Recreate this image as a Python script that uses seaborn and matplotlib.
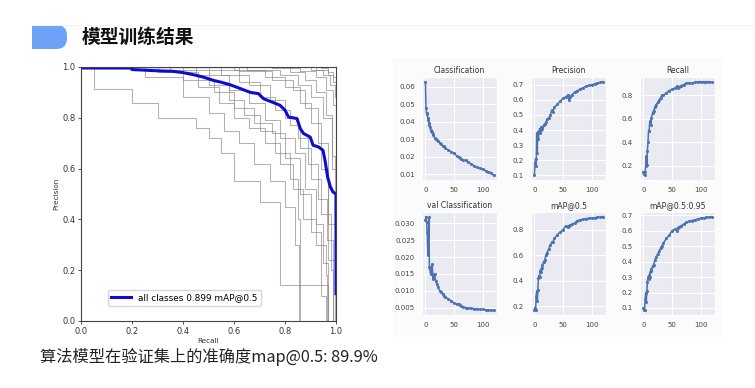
import matplotlib
matplotlib.use("Agg")
import matplotlib.pyplot as plt
from matplotlib.patches import FancyBboxPatch, Rectangle
from matplotlib.lines import Line2D
import seaborn as sns

W, H = 755, 388

# PR curve, all classes
all_recall = [0, 0.2, 0.2, 0.3, 0.36, 0.40, 0.44, 0.48, 0.52, 0.55, 0.585, 0.625, 0.664,
              0.696, 0.716, 0.749, 0.781, 0.80, 0.814, 0.847, 0.86, 0.873, 0.899, 0.91,
              0.932, 0.949, 0.958, 0.967, 0.978, 0.988, 1.0, 1.0]
all_precision = [0.996, 0.996, 0.99, 0.985, 0.983, 0.978, 0.97, 0.96, 0.947, 0.94, 0.93, 0.915,
                 0.90, 0.895, 0.875, 0.862, 0.849, 0.83, 0.803, 0.797, 0.757, 0.738, 0.724,
                 0.692, 0.685, 0.672, 0.626, 0.567, 0.528, 0.508, 0.50, 0.108]
all_label = "all classes 0.899 mAP@0.5"

# PR curves per class (step breakpoints)
class_recall = [
    [0, 0.05, 0.20, 0.30, 0.45, 0.50, 0.55, 0.60, 0.70, 0.78, 0.96, 0.97],
    [0, 0.25, 0.40, 0.50, 0.56, 0.62, 0.68, 0.74, 0.80, 0.84, 0.855],
    [0, 0.30, 0.46, 0.54, 0.60, 0.66, 0.72, 0.78, 0.83, 0.87, 0.92, 0.96, 0.965],
    [0, 0.45, 0.58, 0.66, 0.72, 0.78, 0.84, 0.88, 0.92, 0.95, 0.97],
    [0, 0.50, 0.62, 0.70, 0.76, 0.82, 0.86, 0.90, 0.94, 0.98, 0.99],
    [0, 0.40, 0.52, 0.60, 0.68, 0.75, 0.80, 0.86, 0.90, 0.94, 0.96],
    [0, 0.60, 0.72, 0.80, 0.86, 0.90, 0.94, 0.97, 1.0],
    [0, 0.70, 0.82, 0.88, 0.92, 0.96, 0.985, 1.0],
    [0, 0.80, 0.90, 0.95, 0.975, 0.995, 1.0],
    [0, 0.88, 0.94, 0.97, 0.99, 1.0],
    [0, 0.55, 0.66, 0.74, 0.80, 0.85, 0.89, 0.93, 0.965, 0.99],
    [0, 0.35, 0.50, 0.58, 0.64, 0.70, 0.76, 0.82, 0.85, 0.86],
    [0, 0.65, 0.78, 0.85, 0.90, 0.95, 0.985, 0.995],
    [0, 0.75, 0.86, 0.92, 0.96, 0.99, 1.0],
    [0, 0.92, 0.97, 0.99, 1.0],
    [0, 0.62, 0.75, 0.83, 0.88, 0.93, 0.97, 1.0],
]
class_precision = [
    [1.0, 0.915, 0.86, 0.80, 0.76, 0.72, 0.66, 0.55, 0.47, 0.14, 0.14, 0.0],
    [1.0, 0.96, 0.88, 0.82, 0.75, 0.70, 0.62, 0.55, 0.45, 0.30, 0.0],
    [1.0, 0.98, 0.92, 0.86, 0.80, 0.76, 0.70, 0.62, 0.52, 0.40, 0.30, 0.18, 0.0],
    [1.0, 0.97, 0.91, 0.86, 0.79, 0.72, 0.66, 0.52, 0.38, 0.23, 0.0],
    [1.0, 0.99, 0.94, 0.88, 0.83, 0.77, 0.68, 0.56, 0.42, 0.20, 0.0],
    [1.0, 0.95, 0.90, 0.84, 0.78, 0.74, 0.64, 0.50, 0.35, 0.10, 0.0],
    [1.0, 0.99, 0.96, 0.92, 0.86, 0.78, 0.60, 0.38, 0.0],
    [1.0, 1.0, 0.98, 0.95, 0.90, 0.81, 0.60, 0.0],
    [1.0, 1.0, 0.99, 0.97, 0.93, 0.88, 0.0],
    [1.0, 1.0, 0.995, 0.98, 0.96, 0.0],
    [1.0, 0.97, 0.93, 0.87, 0.80, 0.72, 0.62, 0.48, 0.32, 0.0],
    [1.0, 0.99, 0.93, 0.87, 0.81, 0.75, 0.66, 0.56, 0.40, 0.0],
    [1.0, 0.99, 0.97, 0.93, 0.88, 0.80, 0.65, 0.0],
    [1.0, 0.995, 0.985, 0.96, 0.91, 0.85, 0.0],
    [1.0, 0.99, 0.97, 0.94, 0.0],
    [1.0, 0.985, 0.95, 0.91, 0.84, 0.70, 0.24, 0.0],
]

# training curves
epochs = [0, 1, 2, 3, 4, 5, 6, 7, 8, 9, 10, 11, 12, 13, 14, 16, 18, 20, 22, 25, 28, 30,
          32, 35, 40, 45, 50, 55, 58, 60, 62, 65, 70, 75, 80, 85, 90, 95, 100, 105, 110,
          115, 119]
cls_loss = [0.063, 0.048, 0.0445, 0.045, 0.042, 0.041, 0.0395, 0.038, 0.037, 0.0355, 0.035,
            0.0345, 0.034, 0.033, 0.0325, 0.031, 0.030, 0.0295, 0.029, 0.028, 0.0272, 0.0265,
            0.026, 0.025, 0.024, 0.023, 0.022, 0.0205, 0.020, 0.0195, 0.019, 0.0185, 0.018,
            0.017, 0.016, 0.015, 0.014, 0.0135, 0.013, 0.0122, 0.0115, 0.011, 0.0095]
precision = [0.10, 0.18, 0.21, 0.16, 0.38, 0.25, 0.39, 0.34, 0.39, 0.41, 0.38, 0.40, 0.42,
             0.41, 0.42, 0.43, 0.44, 0.45, 0.47, 0.48, 0.50, 0.53, 0.52, 0.55, 0.57, 0.59,
             0.61, 0.62, 0.63, 0.60, 0.62, 0.63, 0.65, 0.66, 0.67, 0.68, 0.69, 0.695, 0.70,
             0.705, 0.71, 0.715, 0.72]
recall = [0.15, 0.13, 0.12, 0.15, 0.20, 0.28, 0.21, 0.33, 0.40, 0.50, 0.50, 0.57, 0.58, 0.55,
          0.61, 0.65, 0.67, 0.70, 0.72, 0.74, 0.76, 0.78, 0.80, 0.80, 0.82, 0.84, 0.85, 0.86,
          0.875, 0.86, 0.87, 0.88, 0.89, 0.90, 0.905, 0.90, 0.91, 0.915, 0.915, 0.915, 0.915,
          0.915, 0.91]
val_cls_loss = [0.031, 0.032, 0.0305, 0.0275, 0.022, 0.0205, 0.0318, 0.017, 0.0165, 0.015,
                0.017, 0.015, 0.018, 0.0135, 0.014, 0.015, 0.013, 0.012, 0.011, 0.010, 0.0095,
                0.009, 0.0085, 0.0082, 0.0075, 0.007, 0.0063, 0.006, 0.006, 0.0058, 0.0055,
                0.0053, 0.0050, 0.0049, 0.0048, 0.0047, 0.0046, 0.0045, 0.0045, 0.0044,
                0.0043, 0.0042, 0.0042]
map50 = [0.17, 0.19, 0.17, 0.28, 0.32, 0.24, 0.33, 0.42, 0.44, 0.43, 0.48, 0.47, 0.49, 0.50,
         0.52, 0.55, 0.56, 0.60, 0.62, 0.65, 0.68, 0.70, 0.70, 0.73, 0.76, 0.78, 0.80, 0.83,
         0.82, 0.83, 0.835, 0.84, 0.85, 0.87, 0.875, 0.88, 0.885, 0.887, 0.89, 0.892, 0.895,
         0.897, 0.90]
map50_95 = [0.10, 0.09, 0.085, 0.16, 0.20, 0.14, 0.21, 0.27, 0.30, 0.29, 0.31, 0.30, 0.33,
            0.34, 0.35, 0.37, 0.38, 0.41, 0.43, 0.45, 0.47, 0.49, 0.50, 0.52, 0.55, 0.57,
            0.60, 0.61, 0.60, 0.62, 0.625, 0.63, 0.64, 0.655, 0.66, 0.665, 0.67, 0.675,
            0.68, 0.683, 0.685, 0.688, 0.69]

panel_titles = ["Classification", "Precision", "Recall",
                "val Classification", "mAP@0.5", "mAP@0.5:0.95"]
panel_series = [cls_loss, precision, recall, val_cls_loss, map50, map50_95]
panel_yticks = [
    [0.01, 0.02, 0.03, 0.04, 0.05, 0.06],
    [0.1, 0.2, 0.3, 0.4, 0.5, 0.6, 0.7],
    [0.2, 0.4, 0.6, 0.8],
    [0.005, 0.010, 0.015, 0.020, 0.025, 0.030],
    [0.2, 0.4, 0.6, 0.8],
    [0.1, 0.2, 0.3, 0.4, 0.5, 0.6, 0.7],
]
panel_fmt = ["{:.2f}", "{:.1f}", "{:.1f}", "{:.3f}", "{:.1f}", "{:.1f}"]

title_text = "模型训练结果"
footer_text = "算法模型在验证集上的准确度map@0.5: 89.9%"

CJK = ["Noto Sans CJK SC", "DejaVu Sans"]


def fx(x):
    return x / W


def fy(y):
    return 1 - y / H


fig = plt.figure(figsize=(W / 100, H / 100), dpi=100)
fig.patch.set_facecolor("white")

# slide header
fig.add_artist(Line2D([fx(32), 1], [fy(25), fy(25)], color="#f2f2f2", lw=0.8))
fig.add_artist(Rectangle((fx(32), fy(49)), fx(20), 24 / H, color="#6ea2f6", lw=0))
fig.add_artist(FancyBboxPatch((fx(40), fy(49)), fx(27), 24 / H,
                              boxstyle="round,pad=0,rounding_size=0.014",
                              color="#6ea2f6", lw=0, mutation_aspect=W / H))
fig.text(fx(82), fy(37), title_text, fontsize=13.5, fontweight="bold",
         va="center", ha="left", family=CJK, color="#111111")
fig.text(fx(40), fy(357), footer_text, fontsize=11.7, va="center", ha="left",
         family=CJK, color="#222222")

# faint panel behind the training plots
fig.add_artist(Rectangle((fx(393), fy(337)), fx(330), 279 / H,
                         color="#fbfbfb", lw=0, zorder=-1))

# PR curve
ax = fig.add_axes([fx(81), fy(321), 255 / W, 254 / H])
for r, p in zip(class_recall, class_precision):
    ax.step(r, p, where="post", color="grey", alpha=0.6, lw=0.75)
ax.plot(all_recall, all_precision, color="#0d0dd2", lw=2.2, label=all_label)
ax.set_xlim(0, 1)
ax.set_ylim(0, 1)
ax.set_xticks([0, 0.2, 0.4, 0.6, 0.8, 1.0])
ax.set_yticks([0, 0.2, 0.4, 0.6, 0.8, 1.0])
ax.tick_params(labelsize=6, length=2.5, width=0.6, pad=1.5, colors="#333333")
for s in ax.spines.values():
    s.set_color("#444444")
    s.set_linewidth(0.8)
ax.set_xlabel("Recall", fontsize=5.2, labelpad=1.5, color="#333333")
ax.set_ylabel("Precision", fontsize=5.2, labelpad=2, color="#333333")
ax.legend(loc="lower left", bbox_to_anchor=(0.105, 0.06), borderaxespad=0,
          fontsize=6.4, handlelength=2.2, frameon=True, fancybox=True)

# training curves
lefts = [422, 531, 640]
tops = [77, 212]
for i, (name, vals) in enumerate(zip(panel_titles, panel_series)):
    row, col = divmod(i, 3)
    with sns.axes_style("darkgrid"):
        a = fig.add_axes([fx(lefts[col]), fy(tops[row] + 103), 75 / W, 103 / H])
    sns.lineplot(x=epochs, y=vals, ax=a, color="#4C72B0", marker="o",
                 markersize=2.2, markeredgewidth=0, linewidth=1.1)
    a.set_title(name, fontsize=5.5, pad=3, color="#333333")
    a.set_xticks([0, 50, 100])
    a.set_yticks(panel_yticks[i])
    a.set_yticklabels([panel_fmt[i].format(v) for v in panel_yticks[i]])
    a.tick_params(labelsize=5, pad=1.5, colors="#444444")
    a.grid(color="white", lw=0.8)

fig.savefig("out.png", dpi=100)
